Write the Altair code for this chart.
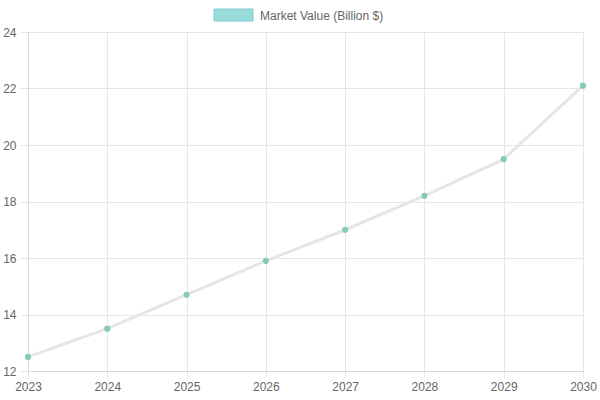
import altair as alt
import pandas as pd

years = ["2023", "2024", "2025", "2026", "2027", "2028", "2029", "2030"]
market_value = [12.5, 13.5, 14.7, 15.9, 17.0, 18.2, 19.5, 22.1]
series_name = "Market Value (Billion $)"

df = pd.DataFrame({"year": [int(y) for y in years], "value": market_value})
legend_df = pd.DataFrame({"label": [series_name]})

FONT = "Liberation Sans"
GREY = "#666666"
GRID = "#e6e6e6"

x_enc = alt.X(
    "year:Q",
    scale=alt.Scale(domain=[2023, 2030], nice=False, zero=False),
    axis=alt.Axis(
        values=[int(y) for y in years], format="d", title=None,
        grid=True, gridColor=GRID, domainColor="#d9d9d9",
        tickColor=GRID, tickSize=6, labelPadding=4,
        labelFont=FONT, labelFontSize=12, labelColor=GREY,
        labelFlush=False,
    ),
)
y_enc = alt.Y(
    "value:Q",
    scale=alt.Scale(domain=[12, 24], nice=False, zero=False),
    axis=alt.Axis(
        values=[12, 14, 16, 18, 20, 22, 24], title=None,
        grid=True, gridColor=GRID, domainColor="#d9d9d9",
        tickColor=GRID, tickSize=8, labelPadding=4,
        labelFont=FONT, labelFontSize=12, labelColor=GREY,
    ),
)

line = alt.Chart(df).mark_line(
    color="#e6e6e6", strokeWidth=3, interpolate="linear"
).encode(x=x_enc, y=y_enc)

points = alt.Chart(df).mark_circle(
    color="#84cabd", size=38, opacity=1
).encode(x="year:Q", y="value:Q")

legend_box = alt.Chart(legend_df).mark_rect(
    fill="#99dada", stroke="#80cccc", strokeWidth=1
).encode(
    x=alt.value(186), x2=alt.value(225),
    y=alt.value(-23), y2=alt.value(-11),
)
legend_text = alt.Chart(legend_df).mark_text(
    align="left", baseline="middle", font=FONT, fontSize=12, color=GREY
).encode(
    text="label:N", x=alt.value(232), y=alt.value(-16),
)

chart = alt.layer(line, points, legend_box, legend_text).properties(
    width=555, height=339,
    padding={"left": 28, "top": 32, "right": 17, "bottom": 29},
    autosize=alt.AutoSizeParams(type="none"),
).configure_view(stroke=None)

chart.save("out.html", embed_options={"renderer": "svg", "actions": False})
